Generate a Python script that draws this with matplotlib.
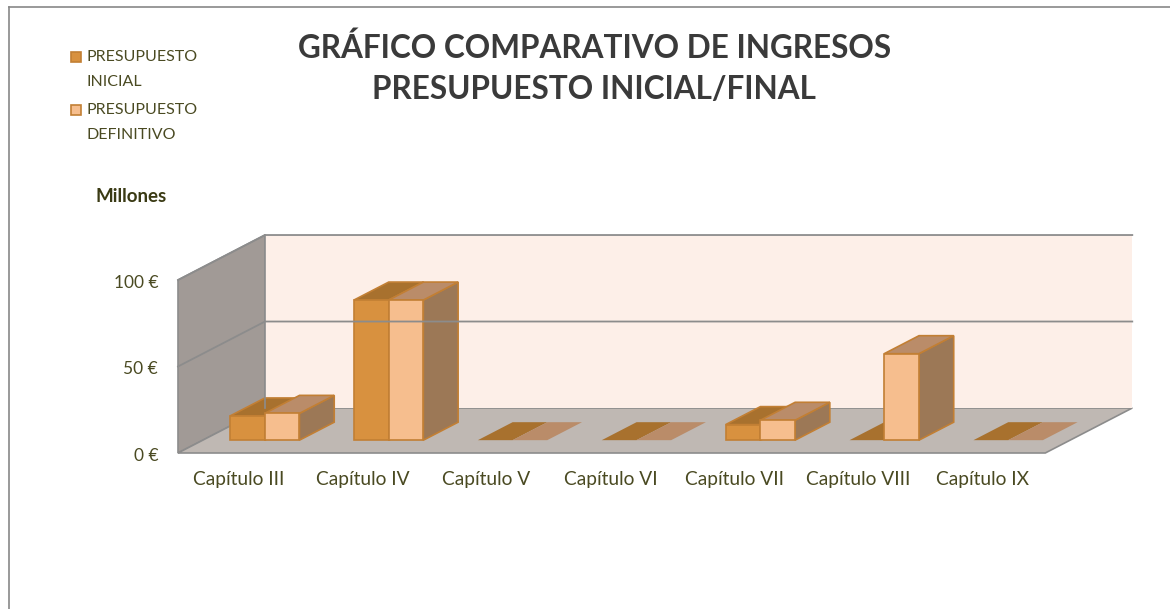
import numpy as np
import matplotlib.pyplot as plt
from matplotlib.patches import Polygon, Rectangle
from matplotlib.lines import Line2D

plt.rcParams['font.family'] = ['Lato', 'DejaVu Sans']

# data
capitulos = ["Capítulo III", "Capítulo IV", "Capítulo V", "Capítulo VI",
             "Capítulo VII", "Capítulo VIII", "Capítulo IX"]
inicial = [14, 81, 0, 0, 9, 0, 0]
definitivo = [15.5, 81, 0, 0, 11.5, 50, 0]
ticks = [0, 50, 100]
tick_labels = ["0 €", "50 €", "100 €"]
series_names = ["PRESUPUESTO\nINICIAL", "PRESUPUESTO\nDEFINITIVO"]

# colours
front_c = ["#D8913F", "#F6BE8E"]
top_c = ["#A8712E", "#BA8C69"]
side_c = ["#8E6530", "#9C7856"]
edge_c = "#C27F34"
txt_c = "#4A4A22"

# oblique depth (category units, value units)
DX, DY = 0.702, 26.0
F0, F1 = 0.285, 0.685   # bar front/back depth fractions
BW = 0.28               # bar width

fig = plt.figure(figsize=(11.7, 6.09), dpi=100)
ax = fig.add_axes([0, 0, 1, 1])
ax.set_xlim(-178 / 123.9, 992 / 123.9)
ax.set_ylim(-156 / 1.73, 453 / 1.73)
ax.axis('off')

n = len(capitulos)
wall_e = "#8C8C8C"

# left wall, floor, back wall
ax.add_patch(Polygon([(0, 0), (0, 100), (DX, 100 + DY), (DX, DY)],
                     closed=True, fc="#A19A96", ec=wall_e, lw=1.2))
ax.add_patch(Polygon([(0, 0), (n, 0), (n + DX, DY), (DX, DY)],
                     closed=True, fc="#BFB8B3", ec=wall_e, lw=1.2))
ax.add_patch(Polygon([(DX, DY), (n + DX, DY), (n + DX, 100 + DY), (DX, 100 + DY)],
                     closed=True, fc="#FDEFE8", ec="none"))
for t in ticks[1:]:
    ax.plot([0, DX, n + DX], [t, t + DY, t + DY], color=wall_e, lw=1.3)
ax.plot([DX, DX], [DY, 100 + DY], color=wall_e, lw=1.2)


def draw_bar(x0, h, k):
    z0, z1 = F0, F1
    x1 = x0 + BW
    b = z0 * DY
    ox, oy = (z1 - z0) * DX, (z1 - z0) * DY
    fx0, fx1 = x0 + z0 * DX, x1 + z0 * DX
    side = [(fx1, b), (fx1 + ox, b + oy), (fx1 + ox, b + oy + h), (fx1, b + h)]
    top = [(fx0, b + h), (fx1, b + h), (fx1 + ox, b + oy + h), (fx0 + ox, b + oy + h)]
    front = [(fx0, b), (fx1, b), (fx1, b + h), (fx0, b + h)]
    if h > 0:
        ax.add_patch(Polygon(side, closed=True, fc=side_c[k], ec=edge_c, lw=1.2))
    ax.add_patch(Polygon(top, closed=True, fc=top_c[k], ec=edge_c if h > 0 else "none", lw=1.2))
    if h > 0:
        ax.add_patch(Polygon(front, closed=True, fc=front_c[k], ec=edge_c, lw=1.2))


for i in range(n):
    c = i + 0.5
    draw_bar(c - BW, inicial[i], 0)
    draw_bar(c, definitivo[i], 1)
    ax.text(c - 0.01, -15.6, capitulos[i], ha='center', va='center',
            fontsize=13.8, color=txt_c)

for t, lab in zip(ticks, tick_labels):
    ax.text(-0.16, t - 1.5, lab, ha='right', va='center', fontsize=12.5, color=txt_c)

# title
fig.text(0.508, 0.922, "GRÁFICO COMPARATIVO DE INGRESOS", ha='center', va='center',
         fontsize=22.7, fontweight='bold', color="#3A3A3A")
fig.text(0.508, 0.853, "PRESUPUESTO INICIAL/FINAL", ha='center', va='center',
         fontsize=22.7, fontweight='bold', color="#3A3A3A")

# legend
for k, (name, y) in enumerate(zip(series_names, [57, 110])):
    fig.patches.append(Rectangle((71 / 1170, 1 - (y + 5) / 609), 10 / 1170, 10 / 609,
                                 transform=fig.transFigure, fc=front_c[k],
                                 ec=edge_c, lw=1.2))
    for j, line in enumerate(name.split("\n")):
        fig.text(86 / 1170, 1 - (y + 25 * j) / 609, line, ha='left', va='center',
                 fontsize=11.5, color=txt_c)

fig.text(131 / 1170, 1 - 197 / 609, "Millones", ha='center', va='center',
         fontsize=13.5, fontweight='bold', color="#3A3A14")

# frame
fig.lines.append(Line2D([9 / 1170, 9 / 1170], [0, 1 - 7 / 609],
                        transform=fig.transFigure, color="#888888", lw=1.2))
fig.lines.append(Line2D([9 / 1170, 1], [1 - 7 / 609, 1 - 7 / 609],
                        transform=fig.transFigure, color="#888888", lw=1.2))

fig.savefig("out.png", dpi=100)
